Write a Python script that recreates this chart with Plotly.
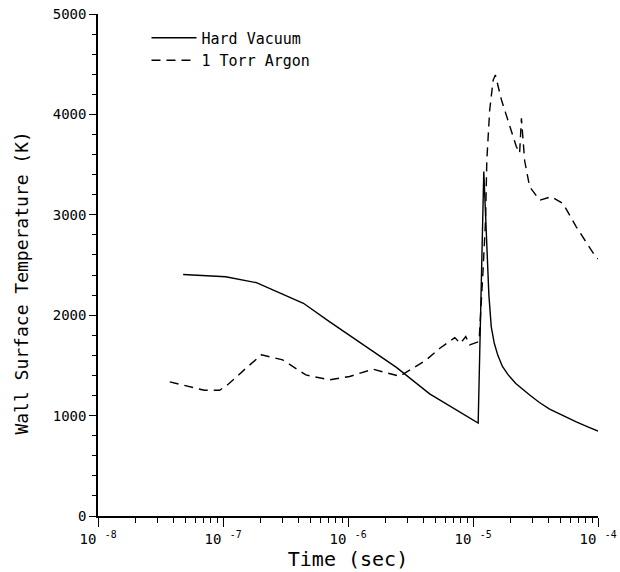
import plotly.graph_objects as go

# Hard Vacuum (solid)
hv_time = [4.8e-8, 1.05e-7, 1.85e-7, 4.4e-7, 7.1e-7, 1.03e-6, 1.32e-6, 2.44e-6, 4.5e-6, 7.4e-6,
           1.1e-5, 1.22e-5, 1.26e-5, 1.30e-5, 1.34e-5, 1.40e-5, 1.48e-5, 1.58e-5, 1.72e-5, 1.90e-5,
           2.2e-5, 2.84e-5, 3.4e-5, 4.1e-5, 5.3e-5, 6.7e-5, 8.2e-5, 1.0e-4]
hv_temp = [2405, 2383, 2324, 2119, 1936, 1800, 1712, 1480, 1216, 1053,
           925, 3430, 3000, 2550, 2200, 1884, 1720, 1600, 1490, 1410,
           1320, 1205, 1130, 1065, 995, 937, 890, 846]

# 1 Torr Argon (dashed)
ar_time = [3.75e-8, 7.1e-8, 9.4e-8, 1.1e-7, 1.58e-7, 2.03e-7, 3.0e-7, 4.6e-7, 7.1e-7, 1.03e-6,
           1.58e-6, 1.9e-6, 2.6e-6, 4.2e-6, 5.4e-6, 7.15e-6, 7.93e-6, 8.75e-6, 9.4e-6, 1.1e-5,
           1.12e-5, 1.2e-5, 1.26e-5, 1.29e-5, 1.36e-5, 1.45e-5, 1.51e-5, 1.69e-5, 1.97e-5, 2.22e-5,
           2.36e-5, 2.44e-5, 2.59e-5, 2.84e-5, 3.42e-5, 4.24e-5, 5.25e-5, 6.7e-5, 9.4e-5, 1.0e-4]
ar_temp = [1336, 1252, 1252, 1312, 1488, 1605, 1555, 1405, 1356, 1389,
           1462, 1435, 1392, 1552, 1668, 1777, 1720, 1787, 1705, 1734,
           1754, 2418, 2946, 3545, 4043, 4342, 4392, 4143, 3880, 3680,
           3614, 3961, 3538, 3278, 3146, 3180, 3113, 2880, 2597, 2560]

x_tickvals = [1e-8, 1e-7, 1e-6, 1e-5, 1e-4]
x_ticktext = ["10 <sup>-8</sup>", "10 <sup>-7</sup>", "10 <sup>-6</sup>", "10 <sup>-5</sup>", "10 <sup>-4</sup>"]
y_tickvals = [0, 1000, 2000, 3000, 4000, 5000]

FONT = "DejaVu Sans Mono"

fig = go.Figure()
fig.add_trace(go.Scatter(x=hv_time, y=hv_temp, mode="lines", name="Hard Vacuum",
                         line=dict(color="black", width=1.4)))
fig.add_trace(go.Scatter(x=ar_time, y=ar_temp, mode="lines", name="1 Torr Argon",
                         line=dict(color="black", width=1.4, dash="9px,6px")))

fig.update_layout(
    width=620, height=572,
    margin=dict(l=98, r=22, t=14, b=56),
    paper_bgcolor="white", plot_bgcolor="white",
    font=dict(family=FONT, color="black"),
    showlegend=True,
    legend=dict(x=0.097, y=0.985, xanchor="left", yanchor="top",
                bgcolor="rgba(0,0,0,0)", font=dict(size=15, family=FONT),
                tracegroupgap=0, itemwidth=45),
    annotations=[dict(text="Wall Surface Temperature (K)", textangle=-90,
                      xref="paper", yref="paper", x=-0.153, y=0.464,
                      xanchor="center", yanchor="middle", showarrow=False,
                      font=dict(size=18, family=FONT))],
)
fig.update_xaxes(
    type="log", range=[-8, -4],
    showgrid=False, zeroline=False,
    showline=True, linecolor="black", linewidth=1.5,
    ticks="outside", ticklen=9, tickwidth=1.3, tickcolor="black",
    tickvals=x_tickvals, ticktext=x_ticktext,
    tickfont=dict(size=14, family=FONT),
    minor=dict(ticks="outside", ticklen=5, tickwidth=1.2, tickcolor="black", dtick="D1", showgrid=False),
    title=dict(text="Time (sec)", font=dict(size=20, family=FONT), standoff=2),
    automargin=False,
)
fig.update_yaxes(
    range=[0, 5000],
    showgrid=False, zeroline=False,
    showline=True, linecolor="black", linewidth=1.5,
    ticks="outside", ticklen=7, tickwidth=1.3, tickcolor="black",
    tickvals=y_tickvals,
    tickfont=dict(size=14, family=FONT),
    minor=dict(ticks="outside", ticklen=4, tickwidth=1.2, tickcolor="black", dtick=200, showgrid=False),
    automargin=False,
)

fig.write_html("out.html")
